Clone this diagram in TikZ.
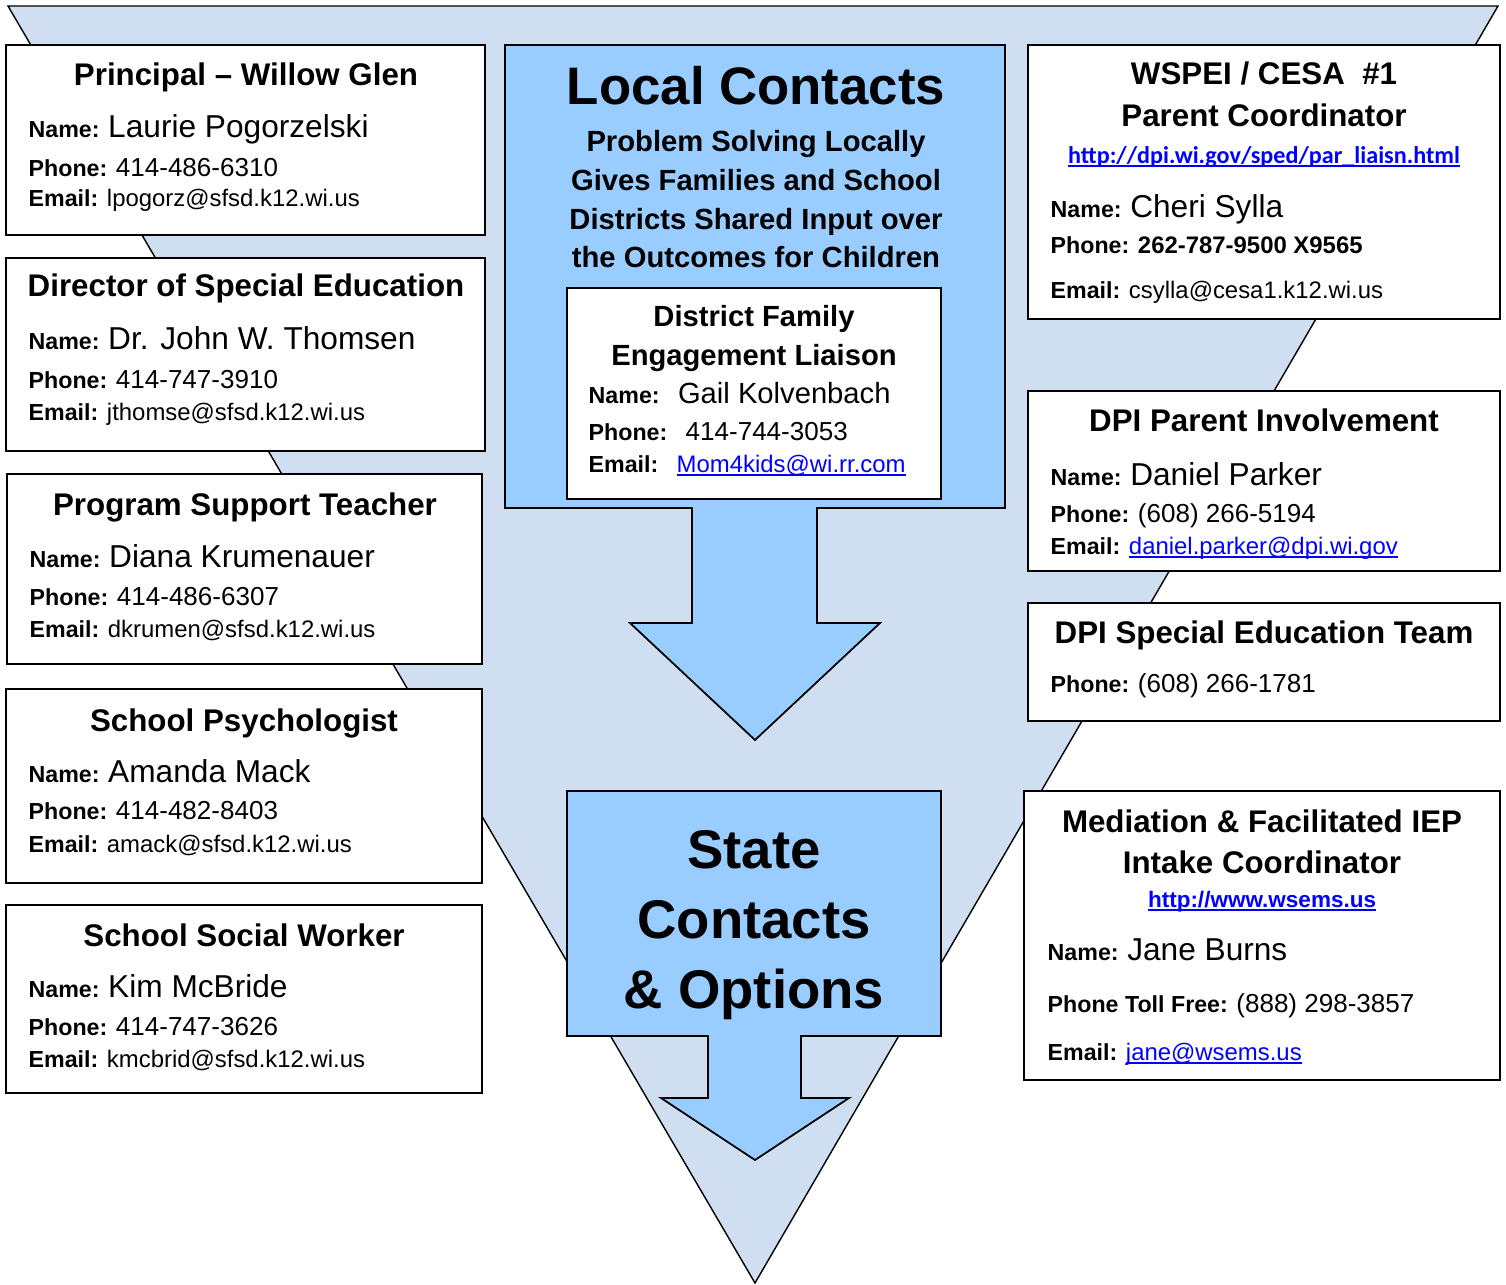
\documentclass[tikz,border=0pt]{standalone}
\usepackage{fontspec}
\setmainfont{Liberation Sans}
\newfontfamily\calfont{Carlito}
\usetikzlibrary{fit}

\definecolor{funnel}{RGB}{208,222,242}
\definecolor{arrowblue}{RGB}{153,204,255}
\definecolor{linkblue}{RGB}{0,0,255}

\newlength\lnkwd
\newcommand{\lab}[1]{{\fontsize{6.6}{8}\selectfont\bfseries #1 }}
\newcommand{\who}[1]{{\fontsize{9}{11}\selectfont #1}}
\newcommand{\tel}[1]{{\fontsize{7.4}{9}\selectfont #1}}
\newcommand{\mail}[1]{{\fontsize{6.8}{8}\selectfont #1}}
\newcommand{\lnk}[1]{\textcolor{linkblue}{\settowidth{\lnkwd}{#1}\rlap{\rule[-1pt]{\lnkwd}{0.5pt}}#1}}

\tikzset{
  box/.style={draw, fill=white, line width=0.6pt, inner sep=0pt},
  title/.style={anchor=base, inner sep=0pt, font=\fontsize{8.9}{10}\selectfont\bfseries},
  sub/.style={anchor=base, inner sep=0pt, font=\fontsize{8.3}{10}\selectfont\bfseries},
  big/.style={anchor=base, inner sep=0pt, font=\fontsize{15.5}{18}\selectfont\bfseries},
  entry/.style={anchor=base west, inner sep=0pt},
}

\begin{document}
\begin{tikzpicture}[x=0.01cm, y=-0.01cm]
\useasboundingbox (0,0) rectangle (1506,1285);

% Funnel
\draw[fill=funnel, line width=0.4pt] (8,6) -- (1498,6) -- (755,1283) -- cycle;

% Local contacts arrow
\draw[fill=arrowblue, line width=0.5pt] (505,45) -- (1005,45) -- (1005,508) -- (817,508)
  -- (817,623) -- (880,623) -- (755,740) -- (630,623) -- (692,623) -- (692,508)
  -- (505,508) -- cycle;

\node[big, font=\fontsize{15}{18}\selectfont\bfseries] (local) at (756,105) {Local Contacts};
\node[sub] (sub1) at (756,152) {Problem Solving Locally};
\node[sub] (sub2) at (756,191) {Gives Families and School};
\node[sub] (sub3) at (756,229) {Districts Shared Input over};
\node[sub] (sub4) at (756,268) {the Outcomes for Children};

% Liaison
\node[box, fit={(567,288) (941,499)}] (liaison) {};
\node[sub] (liaisont1) at (754,326) {District Family};
\node[sub] (liaisont2) at (754,365) {Engagement Liaison};
\node[entry] (liaisonn) at (588,403) {\lab{Name:}\ {\fontsize{8.3}{10}\selectfont Gail Kolvenbach}};
\node[entry] (liaisonp) at (588,440) {\lab{Phone:}\ \tel{414-744-3053}};
\node[entry] (liaisone) at (588,472) {\lab{Email:}\ \mail{\lnk{Mom4kids@wi.rr.com}}};

% State arrow
\draw[fill=arrowblue, line width=0.5pt] (567,791) -- (941,791) -- (941,1036) -- (801,1036)
  -- (801,1098) -- (849,1098) -- (755,1160) -- (661,1098) -- (708,1098) -- (708,1036)
  -- (567,1036) -- cycle;

\node[big] (state1) at (754,868) {State};
\node[big] (state2) at (754,938) {Contacts};
\node[big] (state3) at (754,1008) {\& Options};

% Left column
\node[box, fit={(6,45) (485,235)}] (principal) {};
\node[title] (principalt) at (246,86) {Principal -- Willow Glen};
\node[entry] (principaln) at (28,138) {\lab{Name:}\who{Laurie Pogorzelski}};
\node[entry] (principalp) at (28,176) {\lab{Phone:}\tel{414-486-6310}};
\node[entry] (principale) at (28,207) {\lab{Email:}\mail{lpogorz@sfsd.k12.wi.us}};

\node[box, fit={(6,258) (485,451)}] (director) {};
\node[title] (directort) at (246,297) {Director of Special Education};
\node[entry] (directorn) at (28,350) {\lab{Name:}\who{Dr. John W. Thomsen}};
\node[entry] (directorp) at (28,388) {\lab{Phone:}\tel{414-747-3910}};
\node[entry] (directore) at (28,420) {\lab{Email:}\mail{jthomse@sfsd.k12.wi.us}};

\node[box, fit={(7,474) (482,664)}] (support) {};
\node[title] (supportt) at (245,515) {Program Support Teacher};
\node[entry] (supportn) at (29,567) {\lab{Name:}\who{Diana Krumenauer}};
\node[entry] (supportp) at (29,605) {\lab{Phone:}\tel{414-486-6307}};
\node[entry] (supporte) at (29,637) {\lab{Email:}\mail{dkrumen@sfsd.k12.wi.us}};

\node[box, fit={(6,689) (482,883)}] (psych) {};
\node[title] (psycht) at (244,731) {School Psychologist};
\node[entry] (psychn) at (28,782) {\lab{Name:}\who{Amanda Mack}};
\node[entry] (psychp) at (28,819) {\lab{Phone:}\tel{414-482-8403}};
\node[entry] (psyche) at (28,852) {\lab{Email:}\mail{amack@sfsd.k12.wi.us}};

\node[box, fit={(6,905) (482,1093)}] (social) {};
\node[title] (socialt) at (244,946) {School Social Worker};
\node[entry] (socialn) at (28,997) {\lab{Name:}\who{Kim McBride}};
\node[entry] (socialp) at (28,1035) {\lab{Phone:}\tel{414-747-3626}};
\node[entry] (sociale) at (28,1067) {\lab{Email:}\mail{kmcbrid@sfsd.k12.wi.us}};

% Right column
\node[box, fit={(1028,45) (1500,319)}] (wspei) {};
\node[title] (wspeit1) at (1264,85) {WSPEI / CESA \ \#1};
\node[title] (wspeit2) at (1264,127) {Parent Coordinator};
\node[anchor=base, inner sep=0pt] (wspeiu) at (1264,163) {\calfont\bfseries\fontsize{6.87}{9}\selectfont\lnk{http://dpi.wi.gov/sped/par\_liaisn.html}};
\node[entry] (wspein) at (1050,218) {\lab{Name:}\who{Cheri Sylla}};
\node[entry] (wspeip) at (1050,253) {\lab{Phone:}{\fontsize{6.8}{8}\selectfont\bfseries 262-787-9500 X9565}};
\node[entry] (wspeie) at (1050,298) {\lab{Email:}\mail{csylla@cesa1.k12.wi.us}};

\node[box, fit={(1028,391) (1500,571)}] (dpipar) {};
\node[title] (dpipart) at (1264,431) {DPI Parent Involvement};
\node[entry] (dpiparn) at (1050,485) {\lab{Name:}\who{Daniel Parker}};
\node[entry] (dpiparp) at (1050,522) {\lab{Phone:}\tel{(608) 266-5194}};
\node[entry] (dpipare) at (1050,554) {\lab{Email:}\mail{\lnk{daniel.parker@dpi.wi.gov}}};

\node[box, fit={(1028,603) (1500,721)}] (dpised) {};
\node[title] (dpisedt) at (1264,643) {DPI Special Education Team};
\node[entry] (dpisedp) at (1050,692) {\lab{Phone:}\tel{(608) 266-1781}};

\node[box, fit={(1024,791) (1500,1080)}] (mediation) {};
\node[title] (mediationt1) at (1262,832) {Mediation \& Facilitated IEP};
\node[title] (mediationt2) at (1262,873) {Intake Coordinator};
\node[anchor=base, inner sep=0pt] (mediationu) at (1262,907) {\fontsize{6.4}{8}\selectfont\bfseries\lnk{http://www.wsems.us}};
\node[entry] (mediationn) at (1047,960) {\lab{Name:}\who{Jane Burns}};
\node[entry] (mediationp) at (1047,1012) {\lab{Phone Toll Free:}\tel{(888) 298-3857}};
\node[entry] (mediatione) at (1047,1060) {\lab{Email:}\mail{\lnk{jane@wsems.us}}};

\end{tikzpicture}
\end{document}
